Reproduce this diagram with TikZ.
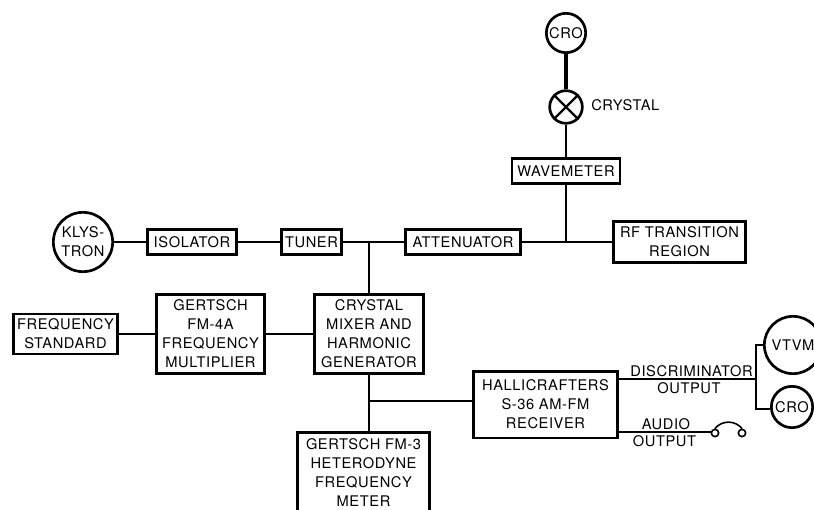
\documentclass[tikz,border=0pt]{standalone}
\usepackage{fontspec}
\setmainfont[LetterSpace=4]{TeX Gyre Heros}
\usepackage{tikz}

\tikzset{
  labeltext/.style={font=\fontsize{11}{14.25}\selectfont, align=center, inner sep=0pt},
  blockbox/.style={draw, line width=2pt, labeltext},
  roundbox/.style={draw, circle, line width=2pt, labeltext, minimum size=#1},
  wire/.style={line width=1.6pt},
  phonering/.style={draw, circle, line width=1.2pt, minimum size=5.5pt, inner sep=0pt},
}

\begin{document}
\begin{tikzpicture}[x=0.75pt,y=-0.75pt]
\useasboundingbox (0,0) rectangle (814,510);

% Ramo superiore
\node[roundbox=29.5pt] (croTop) at (566,33) {CRO};
\node[roundbox=24.5pt] (crystal) at (566,107) {};
\draw[wire] (crystal.45) -- (crystal.225);
\draw[wire] (crystal.135) -- (crystal.315);
\node[labeltext, anchor=west] (crystalLabel) at (591,105) {CRYSTAL};
\node[blockbox, minimum width=81pt, minimum height=19pt] (wavemeter) at (566,171) {WAVEMETER};

% Linea principale
\node[roundbox=44.5pt] (klystron) at (83,242) {KLYS-\\TRON};
\node[blockbox, minimum width=67pt, minimum height=19pt] (isolator) at (192,242) {ISOLATOR};
\node[blockbox, minimum width=45pt, minimum height=19pt] (tuner) at (311.5,242) {TUNER};
\node[blockbox, minimum width=86.5pt, minimum height=19pt] (attenuator) at (463,242) {ATTENUATOR};
\node[blockbox, minimum width=99pt, minimum height=31pt] (rfRegion) at (679.5,242) {RF TRANSITION\\REGION};
\coordinate (mainTee) at (369,242);
\coordinate (waveTee) at (566,242);

% Blocchi centrali
\node[blockbox, minimum width=78pt, minimum height=30pt] (freqStd) at (65.5,334) {FREQUENCY\\STANDARD};
\node[blockbox, minimum width=81pt, minimum height=59pt] (multiplier) at (210.5,334) {GERTSCH\\FM-4A\\FREQUENCY\\MULTIPLIER};
\node[blockbox, minimum width=82pt, minimum height=59pt] (mixer) at (369,334) {CRYSTAL\\MIXER AND\\HARMONIC\\GENERATOR};
\node[blockbox, minimum width=108pt, minimum height=50pt] (receiver) at (545.5,404.5) {HALLICRAFTERS\\S-36 AM-FM\\RECEIVER};
\node[blockbox, minimum width=99pt, minimum height=61pt] (meter) at (363.5,473) {GERTSCH FM-3\\HETERODYNE\\FREQUENCY\\METER};
\coordinate (mixerTee) at (369,401);

% Uscite
\node[roundbox=43pt] (vtvm) at (793,345) {VTVM};
\node[roundbox=31pt] (croOut) at (792,407) {CRO};
\coordinate (discEnd) at (756,379);
\coordinate (vtvmBend) at (756,345);
\coordinate (croBend) at (756,409);
\coordinate (audioEnd) at (711,432);
\node[phonering] (phoneL) at (715,433) {};
\node[phonering] (phoneR) at (742,433) {};
\node[labeltext] (discLabel) at (691.5,371) {DISCRIMINATOR};
\node[labeltext] (discOut) at (689,388) {OUTPUT};
\node[labeltext] (audioLabel) at (666,424) {AUDIO};
\node[labeltext] (audioOut) at (664.5,441) {OUTPUT};

% Collegamenti
\draw[wire, line width=3pt] (croTop) -- (crystal);
\draw[wire] (crystal) -- (wavemeter);
\draw[wire] (wavemeter) -- (waveTee);
\draw[wire] (klystron) -- (isolator);
\draw[wire] (isolator) -- (tuner);
\draw[wire] (tuner) -- (attenuator);
\draw[wire] (attenuator) -- (rfRegion);
\draw[wire] (mainTee) -- (mixer);
\draw[wire] (freqStd) -- (multiplier);
\draw[wire] (multiplier) -- (mixer);
\draw[wire] (mixer) -- (meter.north -| mixer);
\draw[wire] (mixerTee) -- (mixerTee -| receiver.west);
\draw[wire] (receiver.east |- discEnd) -- (discEnd);
\draw[wire] (vtvm.west |- vtvmBend) -- (vtvmBend) -- (croBend) -- (croOut.west |- croBend);
\draw[line width=1.2pt] (receiver.east |- audioEnd) -- (audioEnd);
\draw[line width=1.2pt] (phoneL.north) .. controls (722,420) and (735,420) .. (phoneR.north);
\end{tikzpicture}
\end{document}
